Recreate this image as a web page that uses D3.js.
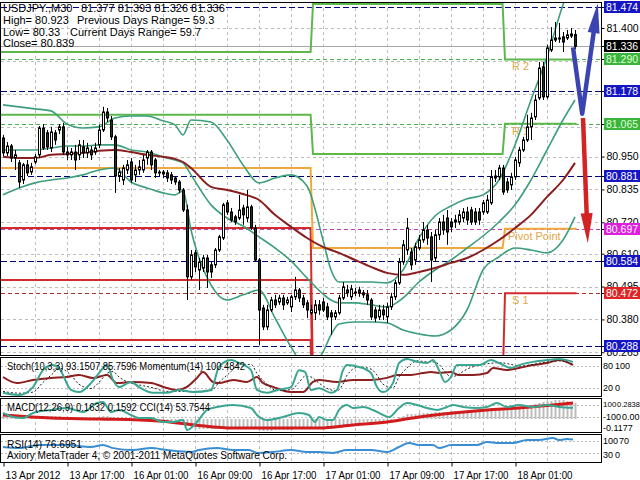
<!DOCTYPE html>
<html>
<head>
<meta charset="utf-8">
<style>
  body { margin: 0; background: #fff; }
  svg text { font-family: "Liberation Sans", Arial, sans-serif; font-size: 11px; fill: #000; }
  .axis path.domain { display: none; }
  .axis line { stroke: #000; }
  .axis text { font-size: 10.5px; }
  .small text { font-size: 9px; }
</style>
</head>
<body>
<svg id="chart" width="640" height="480"></svg>
<script src="https://cdn.jsdelivr.net/npm/d3@7/dist/d3.min.js"></script>
<script>
// ---- price data: USDJPY M30, one row per candle [open, high, low, close]
const candles = [
  [81.015,81.026,80.952,80.963],[80.963,81.001,80.952,80.987],[80.987,80.994,80.931,80.945],[80.945,80.973,80.903,80.956],
  [80.928,80.938,80.840,80.861],[80.868,80.928,80.854,80.921],[80.921,80.938,80.882,80.893],[80.896,80.928,80.886,80.914],
  [80.931,80.959,80.924,80.949],[80.956,81.057,80.945,81.050],[81.050,81.064,80.973,80.980],[81.033,81.043,80.973,80.984],
  [80.980,81.054,80.966,81.036],[81.033,81.043,80.991,81.008],[81.043,81.064,81.029,81.054],[81.054,81.068,80.956,80.966],
  [80.966,80.984,80.938,80.956],[80.956,80.980,80.938,80.966],[80.966,80.991,80.903,80.938],[80.956,81.008,80.938,80.991],
  [80.984,81.008,80.945,80.963],[80.963,80.998,80.945,80.980],[80.973,80.987,80.938,80.956],[80.966,80.998,80.956,80.980],
  [80.991,81.061,80.980,81.043],[81.043,81.124,81.036,81.106],[81.106,81.120,81.071,81.085],[81.078,81.092,81.008,81.019],
  [81.019,81.026,80.823,80.882],[80.882,80.910,80.861,80.896],[80.868,80.921,80.851,80.910],[80.903,80.938,80.889,80.921],
  [80.931,80.945,80.858,80.868],[80.886,80.921,80.861,80.903],[80.903,80.938,80.886,80.914],[80.903,80.956,80.893,80.938],
  [80.945,80.973,80.921,80.966],[80.966,80.973,80.903,80.921],[80.938,80.945,80.875,80.893],[80.896,80.903,80.882,80.893],
  [80.896,80.903,80.875,80.889],[80.893,80.903,80.861,80.875],[80.886,80.896,80.854,80.868],[80.875,80.882,80.851,80.861],
  [80.861,80.868,80.823,80.833],[80.833,80.840,80.756,80.763],[80.763,80.781,80.448,80.529],[80.529,80.623,80.518,80.606],
  [80.613,80.623,80.546,80.564],[80.553,80.595,80.483,80.581],[80.560,80.606,80.546,80.595],[80.595,80.606,80.490,80.546],
  [80.571,80.581,80.525,80.546],[80.571,80.630,80.560,80.623],[80.623,80.676,80.616,80.669],[80.665,80.788,80.658,80.781],
  [80.788,80.798,80.746,80.756],[80.756,80.770,80.721,80.728],[80.739,80.746,80.711,80.721],[80.735,80.816,80.728,80.763],
  [80.770,80.781,80.711,80.746],[80.735,80.833,80.721,80.774],[80.774,80.781,80.693,80.700],[80.700,80.711,80.581,80.588],
  [80.588,80.595,80.291,80.413],[80.420,80.431,80.343,80.354],[80.354,80.431,80.343,80.413],[80.413,80.459,80.406,80.448],
  [80.448,80.466,80.420,80.431],[80.441,80.466,80.431,80.455],[80.455,80.466,80.413,80.431],[80.438,80.459,80.431,80.448],
  [80.424,80.466,80.406,80.459],[80.459,80.529,80.448,80.483],[80.483,80.490,80.441,80.455],[80.455,80.466,80.420,80.431],
  [80.438,80.448,80.385,80.413],[80.403,80.431,80.396,80.413],[80.403,80.448,80.378,80.431],[80.431,80.448,80.396,80.413],
  [80.441,80.455,80.406,80.413],[80.424,80.438,80.378,80.389],[80.403,80.413,80.326,80.389],[80.389,80.413,80.378,80.403],
  [80.403,80.466,80.396,80.455],[80.455,80.511,80.448,80.494],[80.483,80.501,80.459,80.473],[80.459,80.501,80.448,80.487],
  [80.476,80.490,80.462,80.473],[80.483,80.494,80.459,80.473],[80.473,80.483,80.455,80.466],[80.466,80.483,80.431,80.448],
  [80.448,80.455,80.378,80.389],[80.413,80.424,80.371,80.385],[80.389,80.431,80.378,80.413],[80.413,80.431,80.378,80.396],
  [80.389,80.438,80.368,80.424],[80.424,80.473,80.413,80.459],[80.459,80.518,80.448,80.508],[80.508,80.595,80.501,80.581],
  [80.581,80.658,80.571,80.641],[80.623,80.735,80.606,80.700],[80.616,80.630,80.553,80.571],[80.588,80.648,80.571,80.634],
  [80.630,80.676,80.623,80.658],[80.658,80.721,80.648,80.693],[80.693,80.711,80.641,80.665],[80.669,80.686,80.511,80.588],
  [80.595,80.693,80.581,80.676],[80.676,80.735,80.658,80.721],[80.721,80.746,80.676,80.693],[80.735,80.763,80.641,80.686],
  [80.721,80.735,80.686,80.704],[80.728,80.746,80.700,80.721],[80.721,80.763,80.711,80.746],[80.735,80.770,80.721,80.756],
  [80.756,80.774,80.711,80.728],[80.763,80.774,80.711,80.721],[80.756,80.770,80.711,80.721],[80.756,80.770,80.711,80.728],
  [80.756,80.798,80.746,80.788],[80.756,80.816,80.749,80.798],[80.788,80.903,80.781,80.879],[80.875,80.903,80.861,80.882],
  [80.879,80.921,80.868,80.910],[80.910,80.921,80.816,80.826],[80.861,80.875,80.823,80.833],[80.851,80.893,80.833,80.879],
  [80.879,80.949,80.868,80.938],[80.928,80.984,80.914,80.973],[80.973,81.019,80.966,81.008],[81.008,81.096,81.001,81.054],
  [81.054,81.103,81.008,81.085],[81.089,81.166,81.078,81.148],[81.155,81.281,81.148,81.260],[81.264,81.281,81.148,81.159],
  [81.159,81.341,81.152,81.330],[81.323,81.403,81.316,81.358],[81.358,81.421,81.351,81.365],[81.365,81.418,81.348,81.364],
  [81.369,81.386,81.316,81.351],[81.365,81.393,81.358,81.376],[81.372,81.400,81.365,81.379],[81.377,81.393,81.326,81.336]
];

// bollinger bands + moving average, read at these candle positions
const bbIdx   = [0,4,8,12,16,20,24,28,32,36,40,43,45,47,52,56,60,64,68,72,76,80,82,84,88,92,96,100,104,108,112,116,120,124,128,132,136,140,143];
const bbUpper = [81.131,81.124,81.117,81.110,81.064,81.050,81.054,81.085,81.092,81.092,81.075,81.061,81.026,81.078,81.071,81.008,80.921,80.858,80.875,80.886,
                 80.847,80.658,80.553,80.511,80.511,80.511,80.508,80.553,80.665,80.742,80.777,80.802,80.816,80.868,80.991,81.148,81.299,81.481,81.586];
const bbMid   = [80.973,80.973,80.973,80.980,80.987,80.987,80.991,80.991,80.973,80.966,80.949,80.938,80.928,80.886,80.781,80.735,80.707,80.669,80.630,80.585,
                 80.525,80.469,80.448,80.438,80.438,80.431,80.424,80.455,80.511,80.553,80.588,80.630,80.672,80.721,80.781,80.868,80.973,81.078,81.148];
const bbLower = [80.816,80.840,80.858,80.868,80.875,80.886,80.903,80.910,80.861,80.840,80.823,80.816,80.830,80.693,80.501,80.448,80.466,80.483,80.385,80.284,
                 80.210,80.266,80.326,80.364,80.371,80.371,80.368,80.343,80.329,80.322,80.343,80.413,80.553,80.599,80.630,80.623,80.613,80.658,80.739];
const maLine  = [80.949,80.945,80.945,80.956,80.959,80.963,80.970,80.973,80.966,80.956,80.949,80.942,80.931,80.910,80.844,80.833,80.819,80.798,80.746,80.704,
                 80.665,80.634,80.623,80.613,80.588,80.564,80.543,80.536,80.546,80.560,80.578,80.595,80.623,80.658,80.700,80.746,80.809,80.868,80.928];

// daily pivot levels, three trading days split at these candle positions
const dayEdges = [-0.5, 77.5, 125.5, 144];
const pivR2 = [81.316, 81.484, 81.290];
const pivR1 = [81.096, 80.959, 81.065];
const pivPP = [80.910, 80.630, 80.697];
const pivS1 = [80.700, 80.150, 80.472];
const pivS2 = [80.518, 80.050, 80.104];
const pivS3 = [80.308, 79.950, 80.000];

// horizontal levels and right-hand price tags
const navyLevels = [81.474, 81.178, 80.881, 80.584, 80.288];
const greenLevels = [81.290, 81.065];
const magentaLevels = [80.697];
const redLevels = [80.472];
const currentPrice = 81.336;
const gridLevels = [81.400, 81.285, 81.170, 81.055, 80.950, 80.835, 80.720, 80.610, 80.495, 80.380, 80.265];
const labelLevels = [81.400, 80.950, 80.835, 80.720, 80.610, 80.495, 80.380, 80.265];
const tagValues = [81.474, 81.336, 81.290, 81.178, 81.065, 80.881, 80.697, 80.584, 80.472, 80.288];
const tagKinds  = ["blue","black","green","blue","green","blue","magenta","blue","red","blue"];

// forecast arrows [candle position, price]
const blueArrow = [[142.5, 81.332], [144.8, 81.100], [148.7, 81.487]];
const redArrow  = [[145.0, 81.085], [146.2, 80.647]];

// Stochastic(10,3,3) and Momentum(14)
const stochIdx = [0,4,7.5,10,12.5,14,17,19,22,24,26,27.5,29,32,34,37.5,41,44,47.5,52,54,57,59,62,63.5,66,68.5,72,74,75.5,
                  77,79,82,83.5,85,86,89,92,93.5,95,97.5,99,101,103.5,106,107.5,109,110.5,112,113.5,116,119,122,124,127,129,132.5,136,139,142.5];
const stochMain = [6,0,22,69,83,75,14,8,33,61,83,42,22,36,22,6,6,14,8,14,78,97,89,69,14,6,14,22,69,64,
                   14,19,6,14,69,83,78,61,22,8,33,89,100,92,89,97,69,36,50,83,83,83,97,89,75,83,92,97,100,92];
const stochSignal = [10,5,8,35,60,75,55,30,18,35,60,65,50,33,28,20,10,10,10,12,35,65,85,85,60,30,12,15,35,52,
                     50,33,14,12,30,55,78,72,55,30,20,50,75,95,92,92,85,65,50,55,72,83,88,90,85,80,85,92,95,86];
const momIdx = [0,3.5,7.5,12,16,19,22.5,26,28.5,32.5,37,41,43.5,46,48.5,50,52.5,54,57.5,61,63.5,65,67.5,72,75,77.5,79,83.5,87.5,92,
                96,98.5,102,105,107,109,112,114,117.5,121,122.5,126,129,132.5,136,139,142.5];
const momVal = [100.00,99.73,99.87,99.96,100.00,100.09,99.96,100.09,99.73,99.78,99.73,99.51,99.42,99.56,99.96,100.22,99.78,99.73,99.87,99.78,
                100.00,99.73,99.56,99.33,99.33,99.78,99.87,99.78,99.87,99.87,99.96,100.09,100.09,100.18,100.22,100.18,100.22,100.09,100.09,100.18,
                100.40,100.31,100.40,100.53,100.62,100.76,100.53];

// MACD(12,26,9): one histogram value per candle, signal line, and CCI(14)
const macdMain = [
  0.03,0.03,0.02,0.02,0.01,0.00,0.00,0.01,  0.01,0.02,0.03,0.03,0.03,0.03,0.03,0.02,
  0.02,0.01,0.01,0.01,0.01,0.01,0.01,0.01,  0.02,0.03,0.03,0.02,0.00,-0.01,-0.01,-0.01,
  -0.01,-0.01,-0.01,-0.01,-0.01,-0.01,-0.01,-0.02,  -0.02,-0.02,-0.02,-0.03,-0.03,-0.04,-0.07,-0.09,
  -0.10,-0.10,-0.10,-0.10,-0.10,-0.10,-0.09,-0.08,  -0.08,-0.08,-0.08,-0.08,-0.08,-0.08,-0.08,-0.09,
  -0.11,-0.12,-0.12,-0.12,-0.11,-0.11,-0.11,-0.11,  -0.11,-0.10,-0.10,-0.10,-0.10,-0.10,-0.10,-0.10,
  -0.10,-0.10,-0.10,-0.09,-0.08,-0.07,-0.06,-0.05,  -0.04,-0.04,-0.03,-0.03,-0.03,-0.03,-0.03,-0.03,
  -0.02,-0.01,0.00,0.02,0.03,0.05,0.05,0.05,  0.06,0.06,0.06,0.06,0.07,0.07,0.07,0.07,
  0.08,0.08,0.08,0.08,0.08,0.08,0.08,0.08,  0.09,0.10,0.11,0.11,0.11,0.10,0.10,0.10,
  0.11,0.12,0.12,0.13,0.14,0.15,0.16,0.17,  0.18,0.18,0.19,0.19,0.19,0.18,0.17,0.163
];
const sigIdx = [0,12,24,39,48,57.5,66,74,79,87.5,96,104,112.5,121,129,137.5,142.5];
const sigVal = [0.04,0.01,0.00,-0.02,-0.06,-0.09,-0.09,-0.09,-0.09,-0.06,-0.03,0.02,0.06,0.09,0.11,0.14,0.159];
const cciIdx = [0,2.5,5,7.5,12,16,20,23.5,25,27,29,32,34,37,40,42.5,45,46,48.5,51,53.5,57.5,62,63.5,66,70,74,76.5,78,79,
                81,82.5,84,86,87.5,90,92.5,95,96.5,99,101,103.5,106,108.5,111,112.5,115,118.5,121,123.5,126,129,132.5,136,139,142.5];
const cciVal = [-33,-100,-117,-33,17,50,-17,133,150,-17,17,-67,-117,-117,-183,-183,-150,-317,-183,17,67,100,50,-67,-150,-100,-33,-67,-183,-100,
                -150,-150,17,100,50,67,17,-67,-100,50,133,100,50,17,67,100,67,50,67,133,67,100,67,100,67,54];

// RSI(14)
const rsiIdx = [0,4,9,16,22,25,27.5,32.5,37,41,47,49,53.5,57.5,61.5,63.5,67.5,72,76,79,82.5,86,92,96,99,101.5,104,107.5,109,112,
                115,118.5,121,124,127.5,131,134,137.5,139,141,142.5];
const rsiVal = [50,46,57,57,50,57,46,39,46,39,32,39,46,39,39,29,32,39,32,32,29,39,39,32,50,64,57,57,46,57,57,57,68,64,64,75,75,82,75,79,77];

// time axis
const timeIdx = [0,16,32,48,64,80,96,112,128];
const timeLabels = ["13 Apr 2012","13 Apr 17:00","16 Apr 01:00","16 Apr 09:00","16 Apr 17:00","17 Apr 01:00","17 Apr 09:00","17 Apr 17:00","18 Apr 01:00"];

// ---------------------------------------------------------------
const svg = d3.select("#chart");
const L = 1, R = 601;
const panels = { main: [2, 355], stoch: [357, 396], macd: [398, 432], rsi: [434, 462] };

const x = d3.scaleLinear().domain([0, candles.length - 1]).range([3, 575]);
const y = d3.scaleLinear().domain([80.2555, 81.4875]).range([355, 3]);
const yStoch = d3.scaleLinear().domain([0, 100]).range([395, 359]);
const yMom = d3.scaleLinear().domain([99.2, 100.8]).range([395, 359]);
const yMacd = d3.scaleLinear().domain([-0.12, 0.19]).range([431, 400]);
const yCci = d3.scaleLinear().domain([-100, 100]).range([417, 405]);
const yRsi = d3.scaleLinear().domain([0, 100]).range([461, 433]);

const defs = svg.append("defs");
Object.entries(panels).forEach(([k, p]) => {
  defs.append("clipPath").attr("id", "clip-" + k)
    .append("rect").attr("x", L).attr("y", p[0]).attr("width", R - L).attr("height", p[1] - p[0]);
});
const layer = k => svg.append("g").attr("clip-path", "url(#clip-" + k + ")");
const crisp = v => Math.round(v) + 0.5;

// vertical grid in every panel
const vgrid = d3.range(8, candles.length, 8);
Object.entries(panels).forEach(([k, p]) => {
  layer(k).selectAll("line").data(vgrid).join("line")
    .attr("x1", d => crisp(x(d))).attr("x2", d => crisp(x(d)))
    .attr("y1", p[0]).attr("y2", p[1])
    .attr("stroke", "#bdbdbd").attr("stroke-dasharray", "3,3");
});

// ---- main panel
const gMain = layer("main");
gMain.selectAll(".hgrid").data(gridLevels).join("line")
  .attr("x1", L).attr("x2", R).attr("y1", d => crisp(y(d))).attr("y2", d => crisp(y(d)))
  .attr("stroke", "#bdbdbd").attr("stroke-dasharray", "3,3");

function hLines(levels, color, dash) {
  gMain.append("g").selectAll("line").data(levels).join("line")
    .attr("x1", L).attr("x2", R).attr("y1", d => crisp(y(d))).attr("y2", d => crisp(y(d)))
    .attr("stroke", color).attr("stroke-dasharray", dash);
}
hLines(navyLevels, "#00007a", "6,3");
hLines(greenLevels, "#4caf50", "4,3");
hLines(magentaLevels, "#c040c0", "4,3");
hLines(redLevels, "#b03030", "4,3");
hLines([currentPrice], "#a8a8a8", null);

// pivot steps
const stepLine = d3.line().x(d => x(d[0])).y(d => y(d[1]));
function pivot(levels, color) {
  const pts = [];
  levels.forEach((v, i) => { pts.push([dayEdges[i], v]); pts.push([dayEdges[i + 1] - 0.6, v]); });
  gMain.append("path").datum(pts).attr("d", stepLine)
    .attr("fill", "none").attr("stroke", color).attr("stroke-width", 2);
}
pivot(pivS3, "#d32b2b");
pivot(pivS2, "#d32b2b");
pivot(pivS1, "#d32b2b");
pivot(pivPP, "#f2a93b");
pivot(pivR1, "#5cb84a");
pivot(pivR2, "#5cb84a");

const pivLabelX = x(dayEdges[2]) + 7;
[["R 2", pivR2[2]], ["R 1", pivR1[2]], ["Pivot Point", pivPP[2]], ["S 1", pivS1[2]]].forEach(([t, v]) => {
  gMain.append("text").attr("x", t === "Pivot Point" ? pivLabelX - 4 : pivLabelX).attr("y", y(v) + 11)
    .style("fill", "#e3a745").text(t);
});

// bands and MA
const curve = d3.line().curve(d3.curveMonotoneX);
function series(idx, vals, sx, sy, color, width, dash, target) {
  target.append("path")
    .attr("d", curve(idx.map((d, i) => [sx(d), sy(vals[i])])))
    .attr("fill", "none").attr("stroke", color).attr("stroke-width", width)
    .attr("stroke-dasharray", dash || null);
}
series(bbIdx, bbUpper, x, y, "#3d9e7c", 1.6, null, gMain);
series(bbIdx, bbMid, x, y, "#3d9e7c", 1.6, null, gMain);
series(bbIdx, bbLower, x, y, "#3d9e7c", 1.6, null, gMain);
series(bbIdx, maLine, x, y, "#8a1e1e", 2, null, gMain);

// candles
const cg = gMain.append("g");
cg.selectAll("line").data(candles).join("line")
  .attr("x1", (d, i) => Math.round(x(i)) + 0.5).attr("x2", (d, i) => Math.round(x(i)) + 0.5)
  .attr("y1", d => y(d[1])).attr("y2", d => y(d[2]))
  .attr("stroke", "#000");
cg.selectAll("rect").data(candles).join("rect")
  .attr("x", (d, i) => Math.round(x(i)) - 0.5).attr("width", 2)
  .attr("y", d => y(Math.max(d[0], d[3])))
  .attr("height", d => Math.max(1, Math.abs(y(d[0]) - y(d[3]))))
  .attr("fill", d => d[3] >= d[0] ? "#fff" : "#1d361d")
  .attr("stroke", "#000");

// arrows
function arrow(pts, color) {
  const p = pts.map(d => [x(d[0]), y(d[1])]);
  const a = p[p.length - 2], b = p[p.length - 1];
  const ang = Math.atan2(b[1] - a[1], b[0] - a[0]);
  const len = 30, hw = 6;
  const base = [b[0] - len * Math.cos(ang), b[1] - len * Math.sin(ang)];
  const shaft = p.slice(0, -1).concat([[b[0] - (len - 4) * Math.cos(ang), b[1] - (len - 4) * Math.sin(ang)]]);
  svg.append("path").attr("d", d3.line()(shaft)).attr("fill", "none")
    .attr("stroke", color).attr("stroke-width", 4.5).attr("stroke-linejoin", "round");
  svg.append("path").attr("d", d3.line()([
      b,
      [base[0] + hw * Math.sin(ang), base[1] - hw * Math.cos(ang)],
      [base[0] - hw * Math.sin(ang), base[1] + hw * Math.cos(ang)]
    ]) + "Z").attr("fill", color);
}
arrow(blueArrow, "#3b45b2");
arrow(redArrow, "#d42323");

// header text
const hdr = gMain.append("g");
[["USDJPY.,M30", 3, 12], ["81.377 81.393 81.326 81.336", 81, 12],
 ["High= 80.923", 3, 24], ["Previous Days Range= 59.3", 77, 24],
 ["Low= 80.33", 3, 36], ["Current Days Range= 59.7", 70, 36],
 ["Close= 80.839", 3, 47]].forEach(([t, tx, ty]) => hdr.append("text").attr("x", tx).attr("y", ty).text(t));

// helper for window captions, stretched to the terminal's width
function caption(g, t, ty, w) {
  g.append("text").attr("x", 7).attr("y", ty).style("font-size", "10px")
    .attr("textLength", w).attr("lengthAdjust", "spacingAndGlyphs").text(t);
}

// ---- stoch / momentum panel
const gSt = layer("stoch");
gSt.selectAll(".lv").data([80, 20]).join("line")
  .attr("x1", L).attr("x2", R).attr("y1", d => crisp(yStoch(d))).attr("y2", d => crisp(yStoch(d)))
  .attr("stroke", "#bdbdbd").attr("stroke-dasharray", "2,2");
series(momIdx, momVal, x, yMom, "#8e1f1f", 2, null, gSt);
series(stochIdx, stochSignal, x, yStoch, "#222", 1, "2,2", gSt);
series(stochIdx, stochMain, x, yStoch, "#3aa692", 2, null, gSt);
caption(gSt, "Stoch(10,3,3) 93.1507 85.7596  Momentum(14) 100.4842", 370, 238);

// ---- macd / cci panel
const gM = layer("macd");
gM.selectAll(".bar").data(macdMain).join("rect")
  .attr("x", (d, i) => Math.round(x(i)) - 0.5).attr("width", 2)
  .attr("y", d => Math.min(yMacd(d), yMacd(0)))
  .attr("height", d => Math.abs(yMacd(d) - yMacd(0)))
  .attr("fill", "#bcbcbc");
gM.selectAll(".lv").data([100, -100]).join("line")
  .attr("x1", L).attr("x2", R).attr("y1", d => crisp(yCci(d))).attr("y2", d => crisp(yCci(d)))
  .attr("stroke", "#bdbdbd").attr("stroke-dasharray", "2,2");
series(sigIdx, sigVal, x, yMacd, "#d01c1c", 3, null, gM);
series(cciIdx, cciVal, x, yCci, "#3aa692", 2, null, gM);
caption(gM, "MACD(12,26,9) 0.1632 0.1592  CCI(14) 53.7544", 411, 203);

// ---- rsi panel
const gR = layer("rsi");
gR.selectAll(".lv").data([70, 30]).join("line")
  .attr("x1", L).attr("x2", R).attr("y1", d => crisp(yRsi(d))).attr("y2", d => crisp(yRsi(d)))
  .attr("stroke", "#bdbdbd").attr("stroke-dasharray", "2,2");
series(rsiIdx, rsiVal, x, yRsi, "#3a8ed4", 2, null, gR);
caption(gR, "RSI(14) 76.6951", 448, 75);
caption(gR, "Axiory MetaTrader 4, \u00a9 2001-2011 MetaQuotes Software Corp.", 459, 280);

// panel borders
Object.values(panels).forEach(p => {
  svg.append("rect").attr("x", L - 0.5).attr("y", p[0] + 0.5).attr("width", R - L + 1).attr("height", p[1] - p[0])
    .attr("fill", "none").attr("stroke", "#000");
});

// ---- right price axis
svg.append("g").attr("class", "axis").attr("transform", "translate(" + (R + 0.5) + ",0)")
  .call(d3.axisRight(y).tickValues(labelLevels).tickSize(3).tickFormat(d3.format(".3f")))
  .selectAll("text").attr("x", 5);

const tagColors = { blue: ["#1515c4", "#fff"], black: ["#000", "#fff"], green: ["#3cb43c", "#dfffd8"],
                    magenta: ["#e01ee0", "#fff"], red: ["#e02424", "#fff"] };
const tags = svg.append("g");
tagValues.forEach((v, i) => {
  const c = tagColors[tagKinds[i]];
  const ty = Math.round(y(v));
  tags.append("line").attr("x1", R).attr("x2", R + 4).attr("y1", ty + 0.5).attr("y2", ty + 0.5).attr("stroke", "#000");
  tags.append("rect").attr("x", R + 3).attr("y", ty - 6).attr("width", 36).attr("height", 12).attr("fill", c[0]);
  tags.append("text").attr("x", R + 5).attr("y", ty + 4).style("fill", c[1]).style("font-size", "10.5px")
    .text(d3.format(".3f")(v));
});

// sub-window scale labels, side by side
const sub = svg.append("g").attr("class", "small");
[["80", 603, yStoch(80) + 3], ["100", 615, yStoch(80) + 3],
 ["20", 603, yStoch(20) + 3], ["0", 615, yStoch(20) + 3],
 ["-100", 603, yCci(-100) + 3], ["0.00", 622, yCci(-100) + 3],
 ["-0.1177", 603, 431],
 ["100", 603, yRsi(70) + 3], ["70", 619, yRsi(70) + 3],
 ["30", 603, yRsi(30) + 5], ["0", 615, yRsi(30) + 5]]
  .forEach(([t, tx, ty]) => sub.append("text").attr("x", tx).attr("y", ty).text(t));
sub.append("text").attr("x", 603).attr("y", yCci(100) + 2).style("font-size", "8px").text("100");
sub.append("text").attr("x", 617).attr("y", yCci(100) + 2).style("font-size", "7.5px").text("0.2838");

// ---- time axis
const tAxis = svg.append("g").attr("class", "axis").attr("transform", "translate(0," + (panels.rsi[1] + 0.5) + ")")
  .call(d3.axisBottom(x).tickValues(timeIdx).tickSize(4).tickFormat((d, i) => timeLabels[i]));
tAxis.selectAll("line").attr("transform", "translate(0.5,0)");
tAxis.selectAll("text").attr("text-anchor", "start").attr("x", 2).attr("dy", "0.9em")
  .style("font-size", "10px").attr("textLength", 55).attr("lengthAdjust", "spacingAndGlyphs");
</script>
</body>
</html>
